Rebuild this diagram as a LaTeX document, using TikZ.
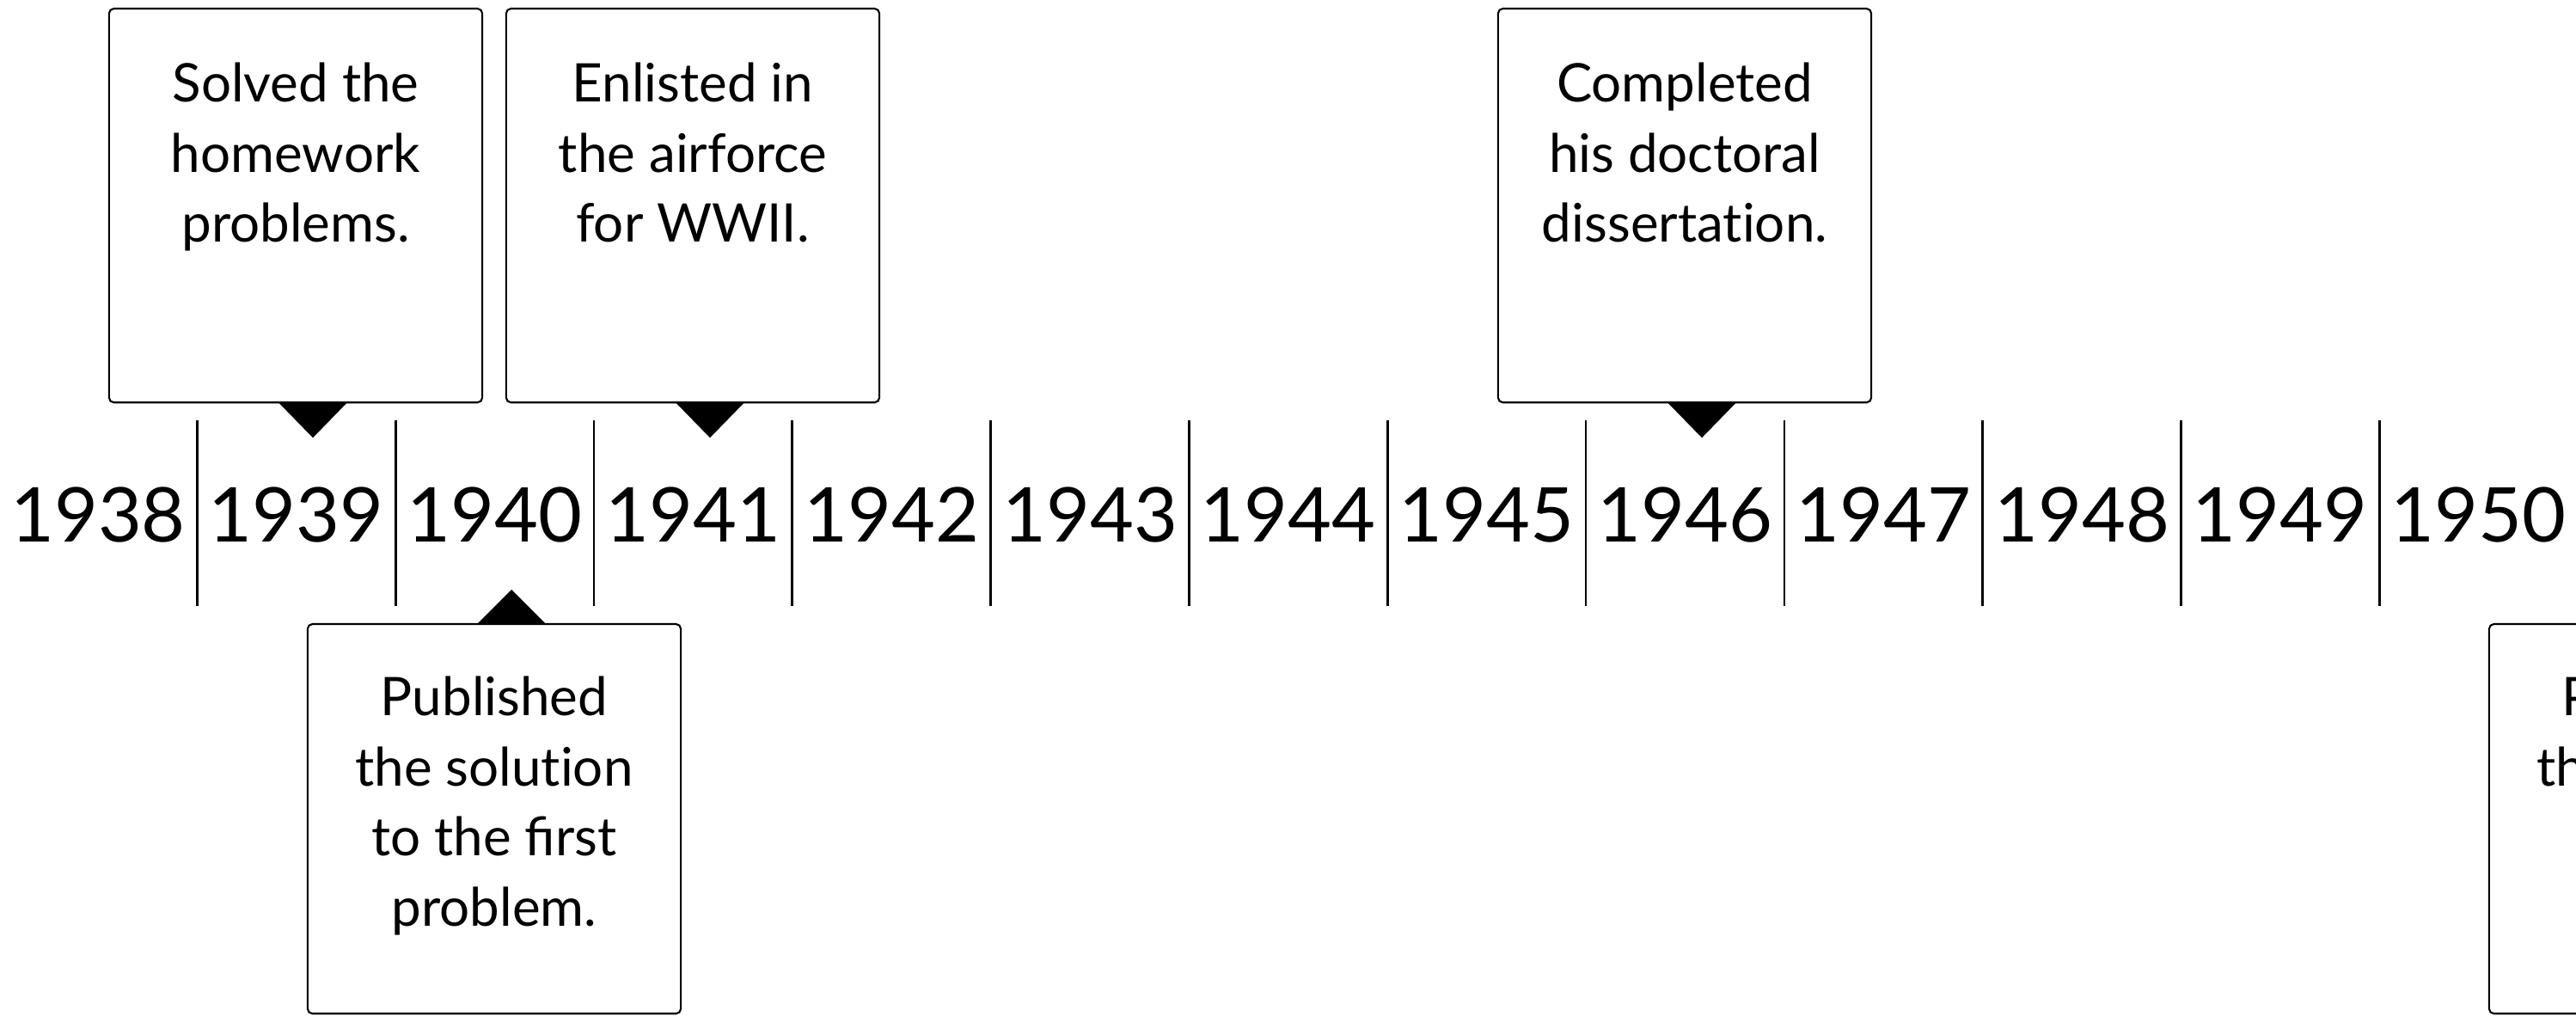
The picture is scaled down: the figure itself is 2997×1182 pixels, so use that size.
\documentclass[tikz,border=0pt]{standalone}
\usepackage{fontspec}
\setmainfont{Lato}[Ligatures=NoCommon]
\usetikzlibrary{calc}
\tikzset{
  year/.style={inner sep=0pt, outer sep=0pt, font=\fontsize{25}{30}\selectfont},
  sepline/.style={line width=0.75pt},
  evbox/.style={draw, line width=0.6pt, rounded corners=1.6pt, minimum width=4.34cm, minimum height=4.58cm, inner sep=0pt, outer sep=0pt, fill=white},
  lowbox/.style={evbox, minimum height=4.53cm},
  evtext/.style={inner sep=0pt, outer sep=0pt, align=center, font=\fontsize{17.6}{23.2}\selectfont, anchor=north},
  pointer/.style={fill=black, draw=none}
}
\begin{document}
\begin{tikzpicture}[x=0.01cm, y=-0.01cm]
\useasboundingbox (0,0) rectangle (2997,1182);
\clip (0,0) rectangle (2997,1182);
\fill[white] (0,0) rectangle (2997,1182);
% years
\foreach \i [evaluate=\i as \yr using int(1938+\i), evaluate=\i as \xc using 114+230.8*\i] in {0,...,12} {
  \node[year] (y\yr) at (\xc,599) {\yr};
}
% separators
\foreach \i in {0,...,11} {
  \draw[sepline] ({229.4+230.8*\i},489) -- ++(0,216);
}
% top boxes
\node[evbox, anchor=north] (b1939) at (344,10) {};
\node[evtext] (t1939) at (344,73) {Solved the\\homework\\problems.};
\fill[pointer] ($(b1939.south)+(-20,0)$) -- ($(b1939.south)+(60,0)$) -- ($(b1939.south)+(20,41)$) -- cycle;

\node[evbox, anchor=north] (b1941) at (806,10) {};
\node[evtext] (t1941) at (806,73) {Enlisted in\\the airforce\\for WWII.};
\fill[pointer] ($(b1941.south)+(-20,0)$) -- ($(b1941.south)+(60,0)$) -- ($(b1941.south)+(20,41)$) -- cycle;

\node[evbox, anchor=north] (b1946) at (1960,10) {};
\node[evtext] (t1946) at (1960,73) {Completed\\his doctoral\\dissertation.};
\fill[pointer] ($(b1946.south)+(-20,0)$) -- ($(b1946.south)+(60,0)$) -- ($(b1946.south)+(20,41)$) -- cycle;

% bottom boxes
\node[lowbox, anchor=north] (b1940) at (575,726) {};
\node[evtext] (t1940) at (575,787) {Published\\the solution\\to the ﬁrst\\problem.};
\fill[pointer] ($(b1940.north)+(-20,0)$) -- ($(b1940.north)+(60,0)$) -- ($(b1940.north)+(20,-40)$) -- cycle;

\node[lowbox, anchor=north] (b1951) at (3113,726) {};
\node[evtext] (t1951) at (3113,787) {Published\\the solution\\to the\\second\\problem.};
\fill[pointer] ($(b1951.north)+(-20,0)$) -- ($(b1951.north)+(60,0)$) -- ($(b1951.north)+(20,-40)$) -- cycle;
\end{tikzpicture}
\end{document}
